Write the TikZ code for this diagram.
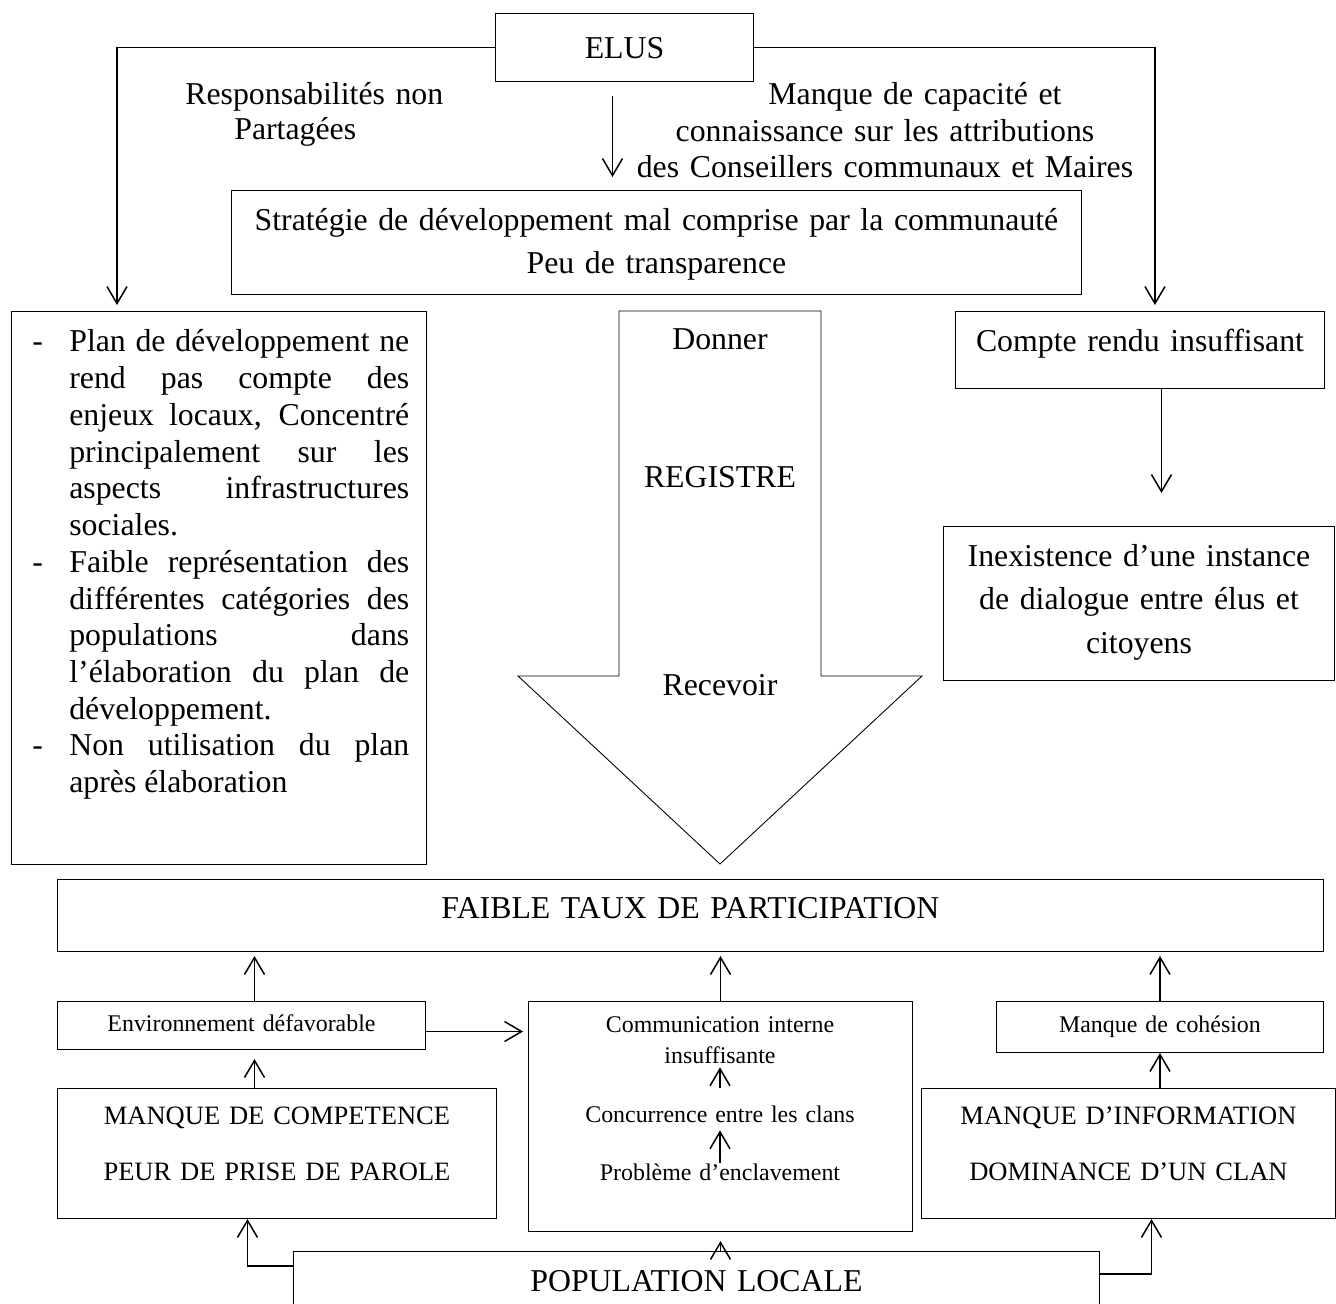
\documentclass[tikz,border=0pt]{standalone}
\usepackage{fontspec}
\setmainfont{Liberation Serif}
\usepackage{tikz}
\usetikzlibrary{arrows.meta}

\newcommand{\bigfont}{\fontsize{18.1pt}{20.9pt}\selectfont}
\newcommand{\midfont}{\fontsize{15.1pt}{31.9pt}\selectfont}
\newcommand{\smallfont}{\fontsize{13.6pt}{18.2pt}\selectfont}
\newcommand{\dashitem}{\makebox[0.74cm][l]{-}}

\begin{document}
\begin{tikzpicture}[x=0.02cm, y=-0.02cm,
  box/.style={draw, line width=.6pt, inner sep=0pt, anchor=north west, align=center, font=\bigfont},
  link/.style={line width=.85pt, -{Straight Barb[length=.34cm, width=.4cm]}}]
\path[use as bounding box, clip] (0,0) rectangle (1336,1304);

\node[box, text width=5.16cm, text height=.9cm, text depth=.46cm] (elus) at (495,13) {ELUS};
\node[box, text width=17cm, text height=.8cm, text depth=1.28cm, font=\fontsize{18.1pt}{24.5pt}\selectfont] (strat) at (231,190)
  {Stratégie de développement mal comprise par la communauté\\Peu de transparence};
\node[box, minimum width=8.3cm, minimum height=11.06cm] (plan) at (11,311) {};
\node[anchor=base west, inner sep=0pt, text width=7.54cm, align=justify, font=\bigfont] (plantext) at (32,352)
  {\hangindent=0.74cm\dashitem Plan de développement ne\linebreak rend pas compte des\linebreak enjeux locaux, Concentré\linebreak principalement sur les\linebreak aspects infrastructures\linebreak sociales.\par
   \hangindent=0.74cm\dashitem Faible représentation des\linebreak différentes catégories des\linebreak populations dans\linebreak l’élaboration du plan de\linebreak développement.\par
   \hangindent=0.74cm\dashitem Non utilisation du plan\linebreak après élaboration\par};
\node[box, text width=7.38cm, text height=.8cm, text depth=.74cm] (compte) at (955,311) {Compte rendu insuffisant};
\node[box, text width=7.82cm, text height=.8cm, text depth=2.28cm, font=\fontsize{18.1pt}{24.7pt}\selectfont] (inexist) at (943,526)
  {Inexistence d’une instance\\de dialogue entre élus et\\citoyens};

\node[anchor=base west, inner sep=0pt, text width=8cm, align=left, font=\fontsize{18.1pt}{19.9pt}\selectfont] (resp) at (185,105)
  {Responsabilités non\\\hspace*{0.98cm}Partagées};
\node[anchor=base, inner sep=0pt, text width=10.5cm, align=center, font=\fontsize{18.1pt}{20.7pt}\selectfont] (capacite) at (885,105)
  {\hspace*{1.2cm}Manque de capacité et\\connaissance sur les attributions\\des Conseillers communaux et Maires};

\draw[line width=.5pt] (619,311) -- (821,311) -- (821,676) -- (922,676) -- (720,864) -- (518,676) -- (619,676) -- cycle;
\node[font=\bigfont] (donner) at (720,339) {Donner};
\node[font=\bigfont] (registre) at (720,477) {REGISTRE};
\node[font=\bigfont] (recevoir) at (720,685) {Recevoir};

\node[box, text width=25.32cm, text height=.78cm, text depth=.66cm] (faible) at (57,879) {FAIBLE TAUX DE PARTICIPATION};
\node[box, text width=7.36cm, text height=.6cm, text depth=.36cm, font=\smallfont] (env) at (57,1001) {Environnement défavorable};
\node[box, minimum width=7.68cm, minimum height=4.6cm] (comm) at (528,1001) {};
\node[box, text width=6.54cm, text height=.62cm, text depth=.4cm, font=\smallfont] (cohesion) at (996,1001) {Manque de cohésion};
\node[box, text width=8.78cm, text height=.72cm, text depth=1.88cm, font=\midfont] (mcomp) at (57,1088)
  {MANQUE DE COMPETENCE\\PEUR DE PRISE DE PAROLE};
\node[box, text width=8.28cm, text height=.72cm, text depth=1.88cm, font=\midfont] (minfo) at (921,1088)
  {MANQUE D’INFORMATION\\DOMINANCE D’UN CLAN};
\node[box, text width=16.12cm, text height=.8cm, text depth=.8cm] (pop) at (293,1251) {POPULATION LOCALE};

\node[anchor=base, inner sep=0pt, text width=7cm, align=center, text height=.4cm, text depth=.7cm, font=\smallfont] (comm1) at (720,1032)
  {Communication interne\\insuffisante};
\node[anchor=base, inner sep=0pt, text width=7cm, align=center, text height=.68cm, text depth=.16cm, font=\smallfont] (concur) at (720,1122)
  {Concurrence entre les clans};
\node[anchor=base, inner sep=0pt, text width=7cm, align=center, text height=.34cm, text depth=.2cm, font=\smallfont] (enclav) at (720,1180)
  {Problème d’enclavement};

\draw[link, shorten >=.12cm] (elus.west) -| ([xshift=2.12cm]plan.north west);
\draw[link, shorten >=.12cm] (elus.east) -| ([xshift=4cm]compte.north west);
\draw[link, shorten <=.28cm, shorten >=.26cm] ([xshift=-.24cm]elus.south) -- ([xshift=-.24cm]elus.south |- strat.north);
\draw[link, shorten >=.66cm] ([xshift=.43cm]compte.south) -- ([xshift=.43cm]compte.south |- inexist.north);
\foreach \n/\s in {env/.26, comm/0, cohesion/0}
  \draw[link, shorten >=.08cm] ([xshift=\s cm]\n.north) -- ([xshift=\s cm]\n.north |- faible.south);
\draw[link, shorten >=.18cm] ([xshift=.26cm]env.south |- mcomp.north) -- ([xshift=.26cm]env.south);
\draw[link, shorten >=.1cm] ([yshift=-.12cm]env.east) -- ([yshift=-.12cm]env.east -| comm.west);
\draw[link] (cohesion.south |- minfo.north) -- (cohesion.south);
\draw[link] ([yshift=-.3cm]pop.north west) -| ([xshift=-.59cm]mcomp.south);
\draw[link] ([yshift=-.46cm]pop.north east) -| ([xshift=.46cm]minfo.south);
\draw[link, shorten >=.18cm] (comm.south |- pop.north) -- (comm.south);
\draw[link] (concur.north) -- (comm1.south);
\draw[link] (enclav.north) -- (concur.south);
\end{tikzpicture}
\end{document}
